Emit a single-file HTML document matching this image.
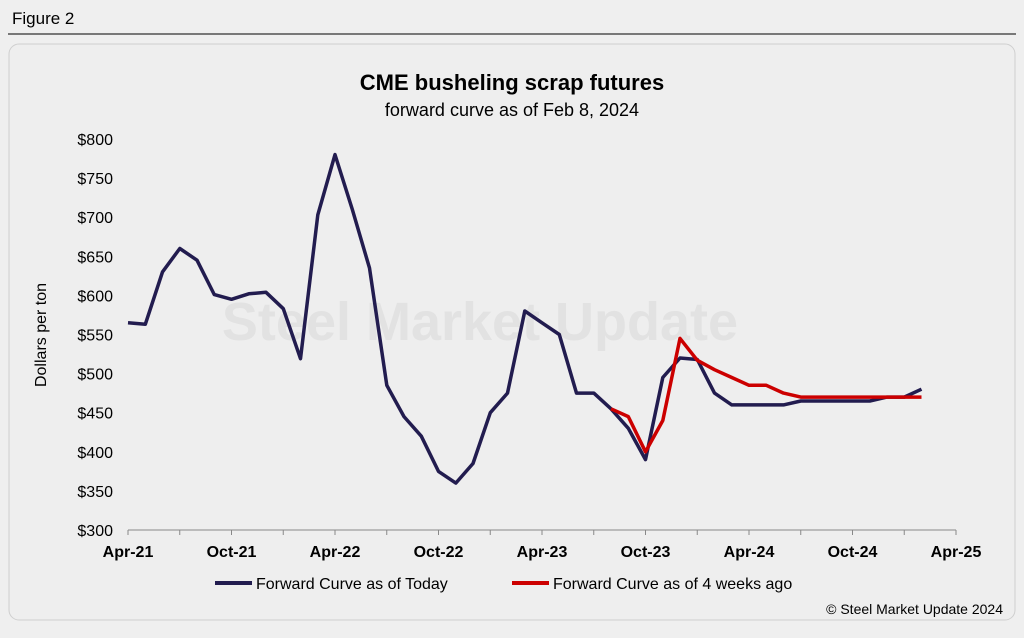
<!DOCTYPE html>
<html><head><meta charset="utf-8"><style>
body{margin:0;width:1024px;height:633px;background:#efefef;font-family:"Liberation Sans",Arial,sans-serif;overflow:hidden}
</style></head><body>
<svg width="1024" height="633">
<rect x="0" y="0" width="1024" height="633" fill="#efefef"/>
<text x="12" y="24" font-size="17" fill="#000">Figure 2</text>
<line x1="8" y1="34" x2="1016" y2="34" stroke="#000" stroke-width="1"/>
<rect x="9" y="44" width="1006" height="576" rx="10" fill="#eeeeee" stroke="#cfcfcf"/>
<text x="512" y="90" text-anchor="middle" font-size="22" font-weight="bold">CME busheling scrap futures</text>
<text x="512" y="116" text-anchor="middle" font-size="18">forward curve as of Feb 8, 2024</text>
<text x="480" y="340" text-anchor="middle" font-size="54" font-weight="bold" fill="#e2e2e2">Steel Market Update</text>
<text x="46" y="335" text-anchor="middle" font-size="16" transform="rotate(-90 46 335)">Dollars per ton</text>
<g id="axes"></g>
<g id="plot"></g>
<line x1="215" y1="583" x2="252" y2="583" stroke="#221c4f" stroke-width="4"/>
<text x="256" y="589" font-size="16">Forward Curve as of Today</text>
<line x1="512" y1="583" x2="549" y2="583" stroke="#cc0000" stroke-width="4"/>
<text x="553" y="589" font-size="16">Forward Curve as of 4 weeks ago</text>
<text x="1003" y="614" text-anchor="end" font-size="14">© Steel Market Update 2024</text>
</svg>
<script>
const today=[565,563,630,660,645,601,595,602,604,583,519,703,780,710,635,485,445,420,375,360,385,450,475,580,565,550,475,475,455,430,390,495,520,518,475,460,460,460,460,465,465,465,465,465,470,470,480];
const weeksAgoStart=28;
const weeksAgo=[455,445,400,440,545,517,505,495,485,485,475,470,470,470,470,470,470,470,470];
const yTicks=[300,350,400,450,500,550,600,650,700,750,800];
const xTickLabels=["Apr-21","Oct-21","Apr-22","Oct-22","Apr-23","Oct-23","Apr-24","Oct-24","Apr-25"];
const X0=128,X1=956,Y0=530,Y1=139;
const xs=i=>X0+(X1-X0)*i/48;
const ys=v=>Y0-(v-300)*(Y0-Y1)/500;
const NS="http://www.w3.org/2000/svg";
const ax=document.getElementById('axes'),pl=document.getElementById('plot');
function mk(tag,at,parent){const e=document.createElementNS(NS,tag);for(const k in at)e.setAttribute(k,at[k]);parent.appendChild(e);return e;}
let l=mk('line',{x1:X0,y1:Y0,x2:X1,y2:Y0,stroke:'#888','stroke-width':1},ax);


yTicks.forEach(v=>{const t=mk('text',{x:113,y:ys(v)+6,'text-anchor':'end','font-size':16},ax);t.textContent='$'+v;

});
for(let i=0;i<=48;i+=3){const k=mk('line',{x1:xs(i),y1:Y0,x2:xs(i),y2:Y0+5,stroke:'#888'},ax);

}
xTickLabels.forEach((s,j)=>{const t=mk('text',{x:xs(j*6),y:Y0+27,'text-anchor':'middle','font-size':16,'font-weight':'bold'},ax);t.textContent=s;

});
function line(vals,off,col,name){const d=vals.map((v,i)=>(i?'L':'M')+xs(i+off).toFixed(1)+','+ys(v).toFixed(1)).join('');
const p=mk('path',{d:d,fill:'none',stroke:col,'stroke-width':3.5,'stroke-linejoin':'round'},pl);

}
line(today,0,'#221c4f','series-today');
line(weeksAgo,weeksAgoStart,'#cc0000','series-4-weeks-ago');
</script>
</body></html>
